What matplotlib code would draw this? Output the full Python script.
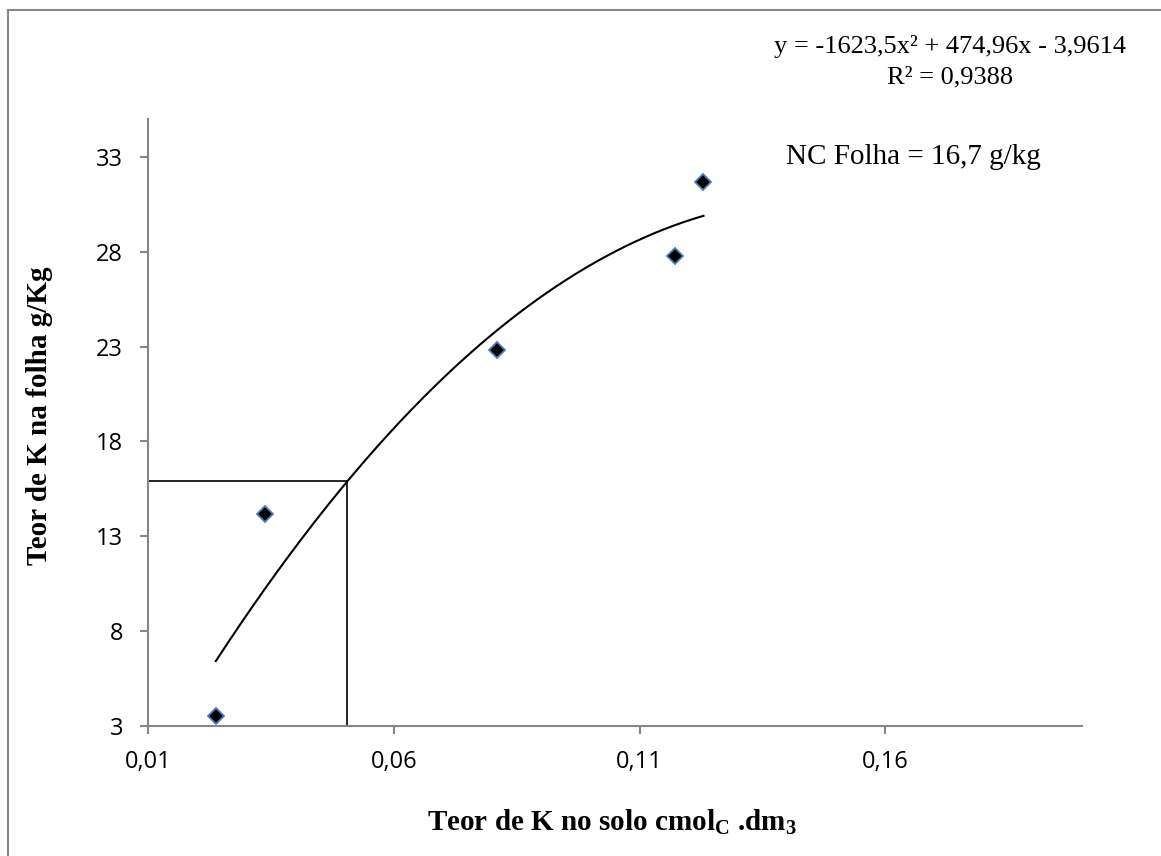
import numpy as np
import matplotlib.pyplot as plt
from matplotlib.lines import Line2D

# data
k_solo = [0.0238, 0.0337, 0.0809, 0.1173, 0.1230]
k_folha = [3.53, 14.16, 22.82, 27.78, 31.69]

# polynomial trendline coefficients, as printed on the chart
trend_coef = [-1623.5, 474.96, -3.9614]

# critical level guide lines
nc_x = 0.0505
nc_y = 15.9

x_ticks = [0.01, 0.06, 0.11, 0.16]
x_ticklabels = ["0,01", "0,06", "0,11", "0,16"]
y_ticks = [3, 8, 13, 18, 23, 28, 33]

plt.rcParams["mathtext.fontset"] = "custom"
plt.rcParams["mathtext.rm"] = "Liberation Serif:bold"
plt.rcParams["mathtext.bf"] = "Liberation Serif:bold"

W, H = 1161, 856
fig = plt.figure(figsize=(W / 100, H / 100), dpi=100)
ax = fig.add_axes([148 / W, 1 - 726 / H, (1082 - 148) / W, (726 - 119) / H])

axis_gray = "#868686"

# trendline over the data range
xx = np.linspace(min(k_solo), max(k_solo), 200)
ax.plot(xx, np.polyval(trend_coef, xx), color="black", lw=1.5, zorder=2)

# guide lines
ax.plot([0.01, nc_x], [nc_y, nc_y], color="black", lw=1.2, zorder=2)
ax.plot([nc_x, nc_x], [3, nc_y], color="black", lw=1.2, zorder=2)

ax.plot(k_solo, k_folha, linestyle="none", marker="D", markersize=8,
        markerfacecolor="black", markeredgecolor="#4a7ebb", markeredgewidth=1.3,
        zorder=3)

ax.set_xlim(0.01, 0.2)
ax.set_ylim(3, 35)
ax.set_xticks(x_ticks)
ax.set_xticklabels(x_ticklabels)
ax.set_yticks(y_ticks)

for side in ["top", "right"]:
    ax.spines[side].set_visible(False)
for side in ["left", "bottom"]:
    ax.spines[side].set_color(axis_gray)
    ax.spines[side].set_linewidth(1.5)
ax.tick_params(axis="both", direction="out", length=6, width=1.5, color=axis_gray,
               labelsize=17)
ax.tick_params(axis="y", pad=12)
ax.tick_params(axis="x", pad=11)
for lab in ax.get_xticklabels() + ax.get_yticklabels():
    lab.set_fontfamily("Open Sans")

# texts
fig.text(950 / W, 1 - 47 / H, "y = -1623,5x² + 474,96x - 3,9614",
         family="Liberation Serif", fontsize=19, ha="center", va="center")
fig.text(950 / W, 1 - 77 / H, "R² = 0,9388",
         family="Liberation Serif", fontsize=19, ha="center", va="center")
fig.text(913 / W, 1 - 157 / H, "NC Folha = 16,7 g/kg",
         family="Liberation Serif", fontsize=21, ha="center", va="center")

fig.text(612 / W, 1 - 822 / H, r"Teor de K no solo cmol$_{\mathrm{C}}$ .dm$_{\mathrm{3}}$",
         family="Liberation Serif", fontweight="bold", fontsize=21,
         ha="center", va="center")
fig.text(40 / W, 1 - 416 / H, "Teor de K na folha g/Kg",
         family="Liberation Serif", fontweight="bold", fontsize=21,
         ha="center", va="center", rotation=90)

# outer chart border (left and top only visible)
fig.add_artist(Line2D([8 / W, 8 / W], [0, 1 - 10 / H], color=axis_gray, lw=1.5,
                      transform=fig.transFigure))
fig.add_artist(Line2D([8 / W, 1], [1 - 10 / H, 1 - 10 / H], color=axis_gray, lw=1.5,
                      transform=fig.transFigure))

fig.savefig("out.png", dpi=100)
